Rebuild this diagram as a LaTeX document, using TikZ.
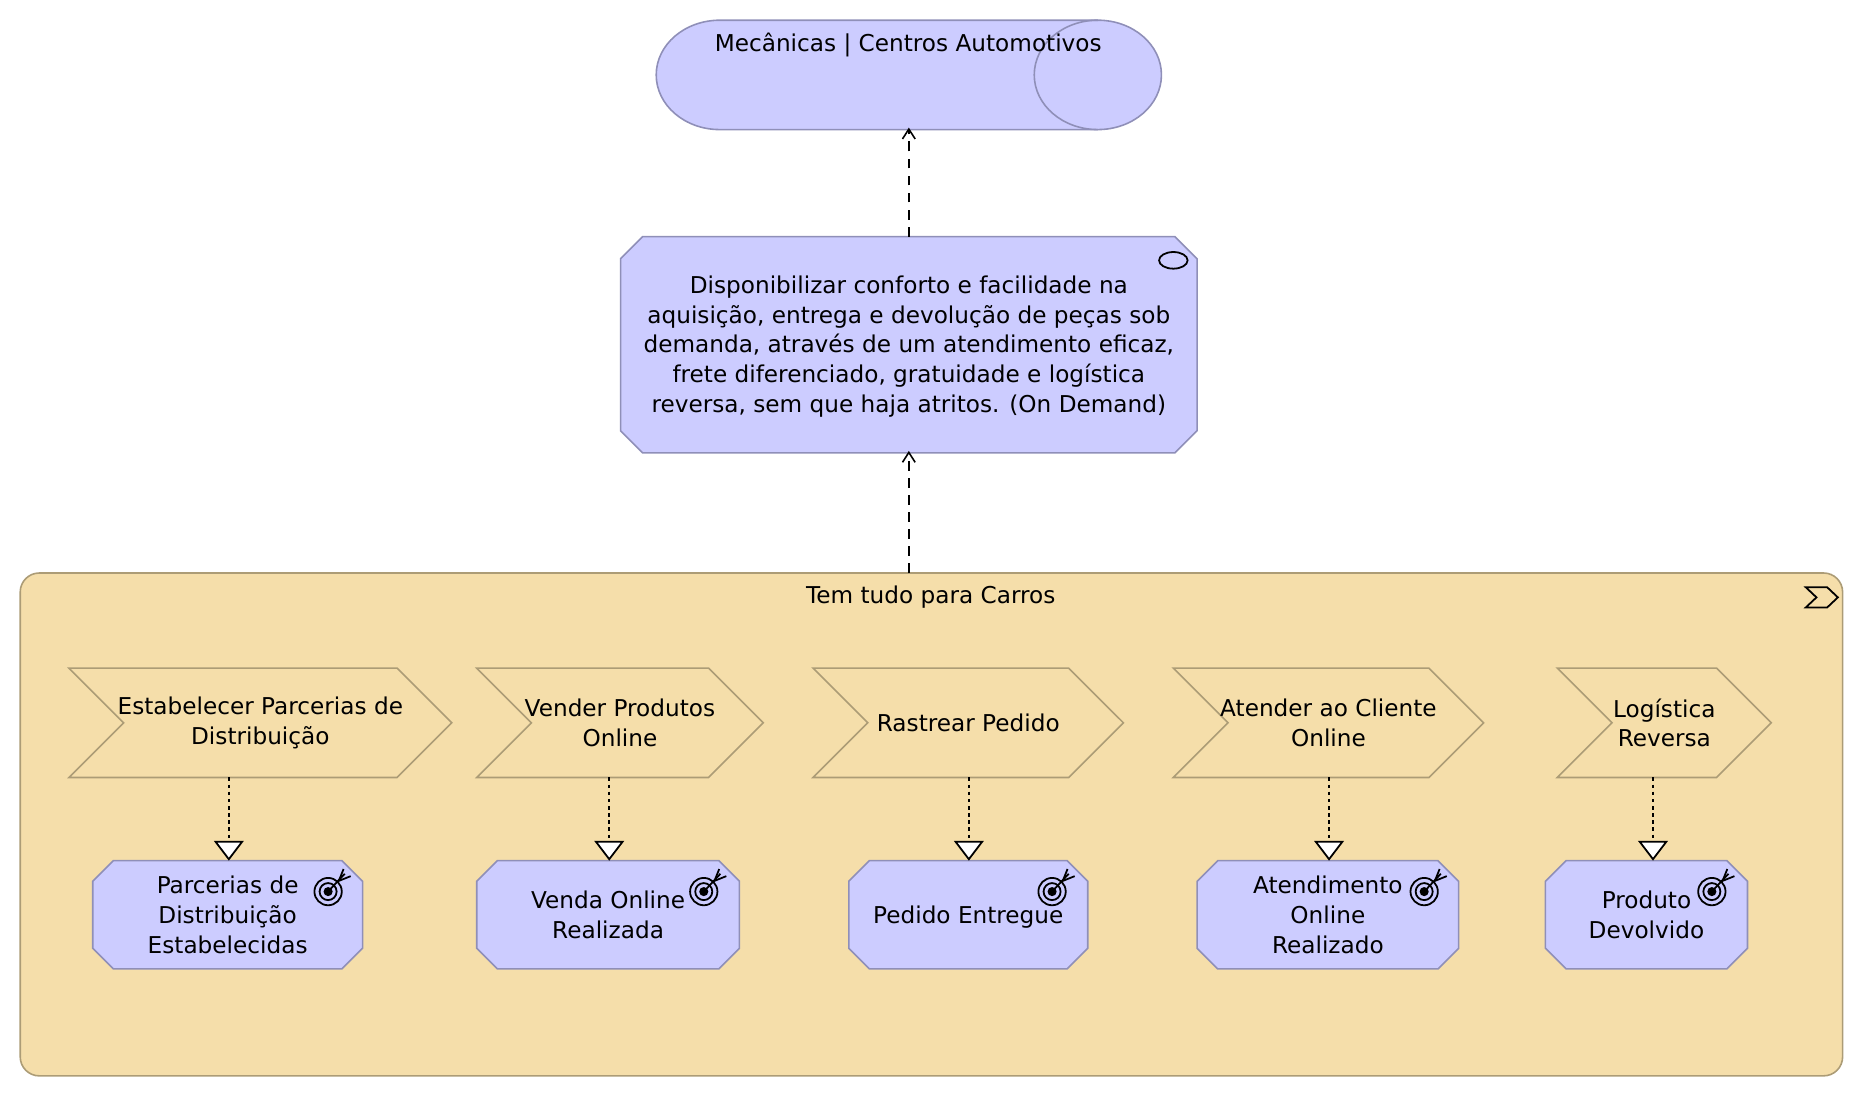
\documentclass[tikz,border=0pt]{standalone}
\usepackage{fontspec}
\setmainfont{DejaVu Sans}
\usetikzlibrary{arrows.meta,shapes.misc,shapes.symbols,shapes.geometric}
\definecolor{vio}{HTML}{CCCCFF}
\definecolor{viob}{HTML}{8F8FB8}
\definecolor{str}{HTML}{F5DEAA}
\definecolor{strb}{HTML}{AC9C76}
\newcommand{\tgticon}[2]{%
  \begin{scope}[shift={(#1,#2)}]
    \draw[black,line width=0.9pt] (0,0) circle[radius=6.9pt];
    \draw[black,line width=0.9pt] (0,0) circle[radius=4.3pt];
    \fill[black] (0,0) circle[radius=2.3pt];
    \draw[black,line width=0.9pt] (0,0) -- (14,-15);
    \draw[black,line width=0.9pt] (13,-19) -- (9,-9) -- (19,-13);
  \end{scope}}
\tikzset{
  x=0.6pt,y=-0.6pt,
  every node/.style={font=\fontsize{11.7pt}{15pt}\selectfont,text=black,align=center,inner sep=0pt,outer sep=0pt},
  goalbox/.style={chamfered rectangle,chamfered rectangle xsep=5.2pt,chamfered rectangle ysep=5.2pt,draw=viob,fill=vio,line width=0.8pt},
  chev/.style={signal,signal to=east,signal from=west,signal pointer angle=90,draw=strb,fill=str,line width=0.8pt,minimum height=55.2pt},
  realize/.style={draw=black,line width=0.9pt,dash pattern=on 5pt off 3.6pt,shorten >=-1pt,-{Straight Barb[length=5pt,width=6.4pt,line width=0.8pt]}},
  outcomearrow/.style={draw=black,line width=0.9pt,dash pattern=on 1.8pt off 1.8pt,-{Triangle[length=10pt,width=15pt,fill=white,line width=0.9pt]}},
}
\begin{document}
\begin{tikzpicture}
\useasboundingbox (0,0) rectangle (1568,922);
% top pill
\draw[draw=viob,fill=vio,line width=0.8pt] (605.5,17) -- (923.5,17) arc[start angle=90,end angle=-90,x radius=32.1pt,y radius=27.6pt] -- (605.5,109) arc[start angle=270,end angle=90,x radius=32.1pt,y radius=27.6pt] -- cycle;
\draw[draw=viob,line width=0.8pt] (923.5,17) arc[start angle=90,end angle=270,x radius=32.1pt,y radius=27.6pt];
\node[minimum width=255pt,minimum height=55.2pt] (pill) at (764.5,63) {};
\node (pilltext) at (764,37.5) {Mecânicas | Centros Automotivos};
% value
\node[goalbox,chamfered rectangle xsep=5.6pt,chamfered rectangle ysep=5.6pt,minimum width=291pt,minimum height=109.2pt,label={[yshift=-0.9pt]center:Disponibilizar conforto e facilidade na\\aquisição, entrega e devolução de peças sob\\demanda, através de um atendimento eficaz,\\frete diferenciado, gratuidade e logística\\reversa, sem que haja atritos. (On Demand)}] (value) at (764.5,290) {\phantom{\rule{60pt}{60pt}}};
\draw[black,line width=0.9pt] (987,219) circle[x radius=7.2pt,y radius=4.2pt];
% container
\node[rectangle,rounded corners=9.6pt,draw=strb,fill=str,line width=0.8pt,minimum width=919.8pt,minimum height=253.8pt] (stream) at (783.5,693.5) {};
\node (streamtext) at (783,502) {Tem tudo para Carros};
\draw[black,line width=0.9pt] (1519,494) -- (1537,494) -- (1546,502.5) -- (1537,511) -- (1519,511) -- (1528,502.5) -- cycle;
% chevrons
\node[chev,minimum width=193.2pt,label={center:Estabelecer Parcerias de\\Distribuição}] (c1) at (219,608) {};
\node[chev,minimum width=144.6pt,label={center:Vender Produtos\\Online}] (c2) at (521.5,608) {};
\node[chev,minimum width=156.6pt,label={center:Rastrear Pedido}] (c3) at (814.5,608) {};
\node[chev,minimum width=156.6pt,label={center:Atender ao Cliente\\Online}] (c4) at (1117.5,608) {};
\node[chev,minimum width=108pt,label={center:Logística\\Reversa}] (c5) at (1400,608) {};
% outcomes
\node[goalbox,minimum width=136.2pt,minimum height=54.6pt] (o1) at (191.5,769.5) {Parcerias de\\Distribuição\\Estabelecidas};
\node[goalbox,minimum width=132.6pt,minimum height=54.6pt] (o2) at (511.5,769.5) {Venda Online\\Realizada};
\node[goalbox,minimum width=120.6pt,minimum height=54.6pt,text height=11.3pt,text depth=2.4pt] (o3) at (814.5,769.5) {Pedido Entregue};
\node[goalbox,minimum width=132pt,minimum height=54.6pt] (o4) at (1117,769.5) {Atendimento\\Online\\Realizado};
\node[goalbox,minimum width=102pt,minimum height=54.6pt] (o5) at (1385,769.5) {Produto\\Devolvido};
\tgticon{276}{750}
\tgticon{592}{750}
\tgticon{885}{750}
\tgticon{1198}{750}
\tgticon{1440}{750}
% connectors
\draw[realize] (value.north) -- (pill.south);
\draw[realize] (stream.north -| value.south) -- (value.south);
\coordinate (o1top) at ([xshift=0.6pt]o1.north);
\coordinate (o2top) at ([xshift=0.6pt]o2.north);
\coordinate (o3top) at ([xshift=0.3pt]o3.north);
\coordinate (o4top) at ([xshift=0.6pt]o4.north);
\coordinate (o5top) at ([xshift=3.3pt]o5.north);
\draw[outcomearrow] (c1.south -| o1top) -- (o1top);
\draw[outcomearrow] (c2.south -| o2top) -- (o2top);
\draw[outcomearrow] (c3.south -| o3top) -- (o3top);
\draw[outcomearrow] (c4.south -| o4top) -- (o4top);
\draw[outcomearrow] (c5.south -| o5top) -- (o5top);
\end{tikzpicture}
\end{document}
